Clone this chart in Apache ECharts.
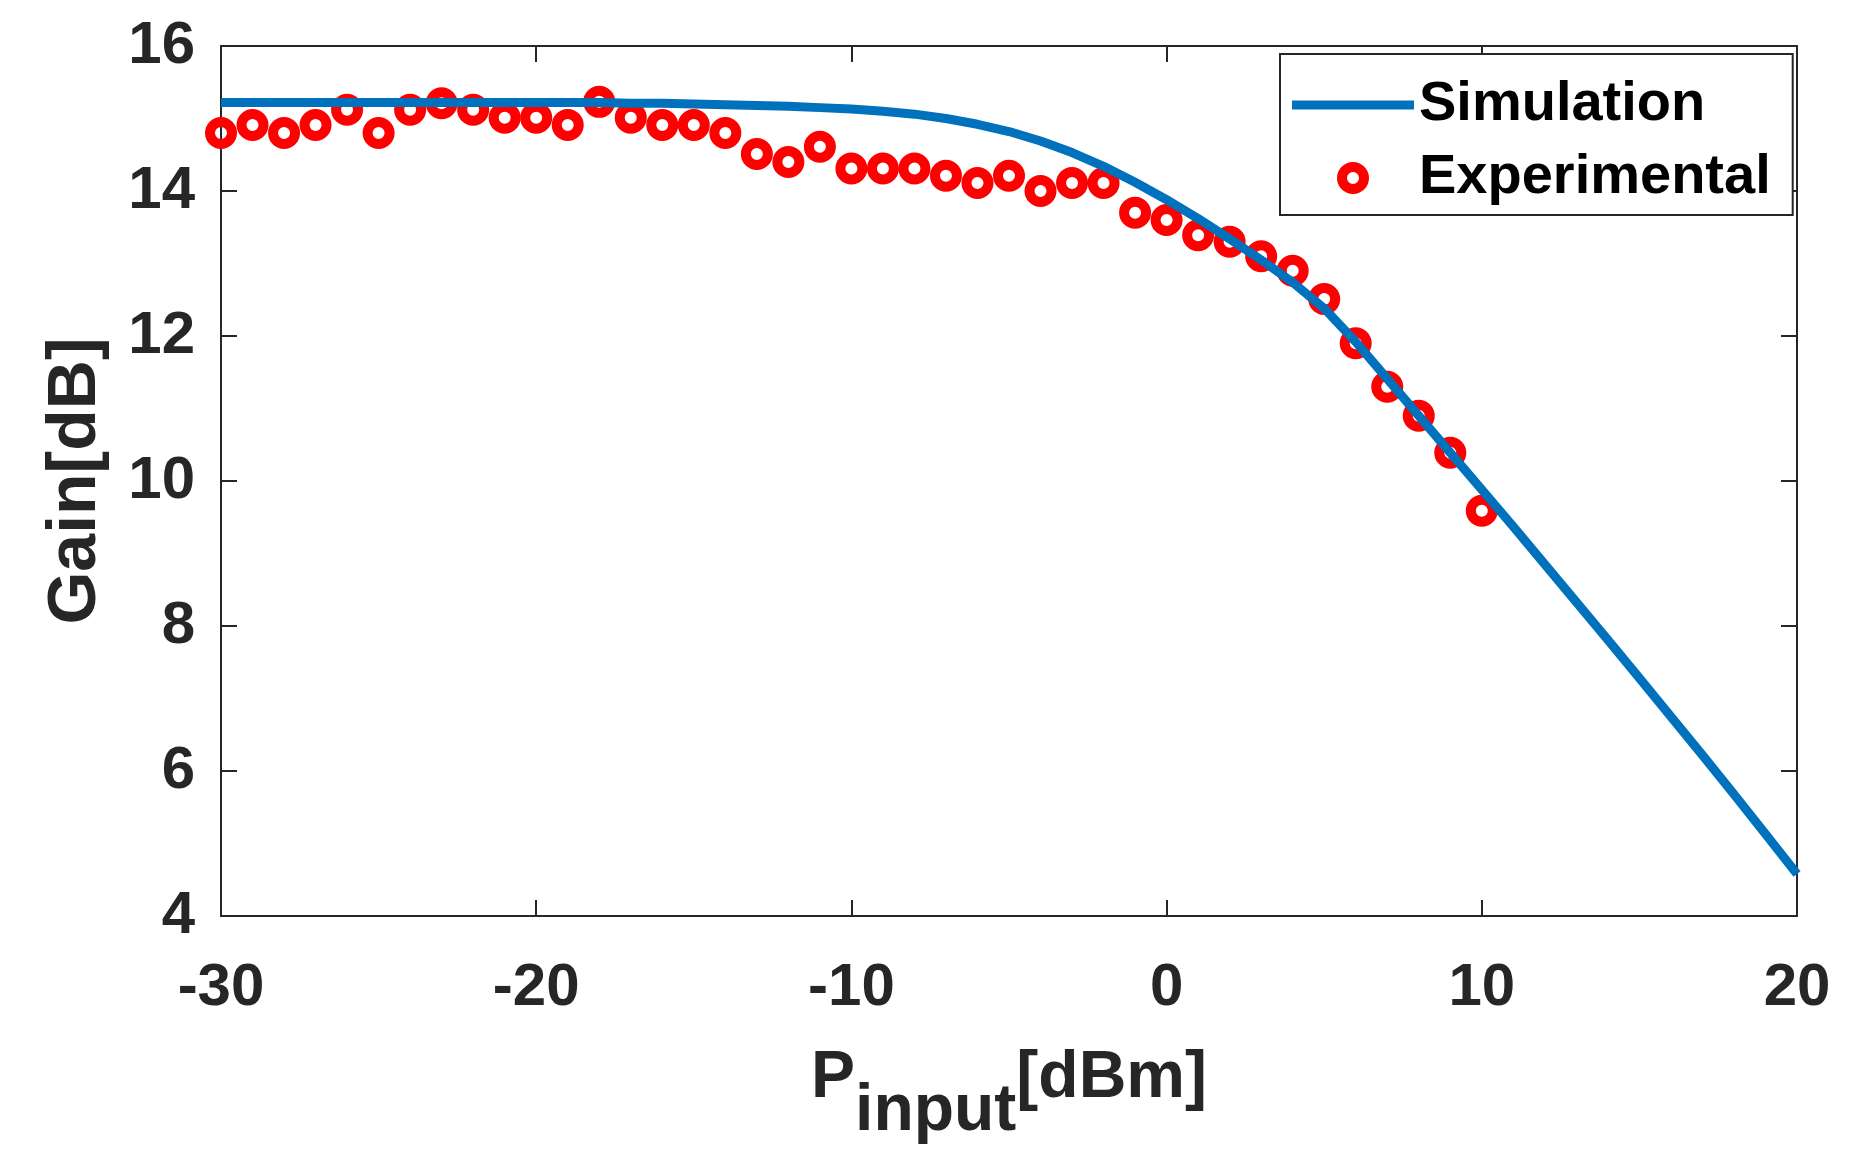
<!DOCTYPE html>
<html>
<head>
<meta charset="utf-8">
<title>Gain vs input power</title>
<script src="https://cdn.jsdelivr.net/npm/echarts@6/dist/echarts.min.js"></script>
<style>
    html, body { margin: 0; padding: 0; background: #fff; }
    #chart { width: 1872px; height: 1172px; }
</style>
</head>
<body>
<div id="chart"></div>
<script>
// simulated gain curve at each dBm
var simX = [-30, -29, -28, -27, -26, -25, -24, -23, -22, -21, -20, -19, -18, -17, -16, -15, -14, -13, -12, -11,
    -10, -9, -8, -7, -6, -5, -4, -3, -2, -1, 0, 1, 2, 3, 4, 5, 6, 7, 8, 9, 10,
    11, 12, 13, 14, 15, 16, 17, 18, 19, 20];
var simGain = [15.22, 15.22, 15.22, 15.22, 15.22, 15.22, 15.22, 15.22, 15.22, 15.22, 15.22, 15.22, 15.22, 15.21, 15.21, 15.20, 15.19, 15.18, 15.17, 15.15,
    15.13, 15.10, 15.06, 15.00, 14.92, 14.82, 14.69, 14.53, 14.34, 14.12, 13.88, 13.62, 13.34, 13.05, 12.74, 12.38, 11.92, 11.41, 10.90, 10.39, 9.88,
    9.37, 8.85, 8.33, 7.81, 7.28, 6.75, 6.22, 5.68, 5.13, 4.58];

// measured points
var expX = [-30, -29, -28, -27, -26, -25, -24, -23, -22, -21, -20, -19, -18, -17, -16, -15, -14, -13, -12, -11,
    -10, -9, -8, -7, -6, -5, -4, -3, -2, -1, 0, 1, 2, 3, 4, 5, 6, 7, 8, 9, 10];
var expGain = [14.80, 14.91, 14.80, 14.91, 15.12, 14.80, 15.12, 15.21, 15.12, 15.01, 15.01, 14.91, 15.23, 15.01, 14.91, 14.91, 14.80, 14.51, 14.40, 14.61,
    14.31, 14.31, 14.31, 14.21, 14.11, 14.21, 14.00, 14.11, 14.11, 13.70, 13.60, 13.39, 13.30, 13.10, 12.90, 12.51, 11.90, 11.30, 10.90, 10.39, 9.59];

var legendNames = ["Simulation", "Experimental"];

function pairs(xs, ys) {
    var out = [];
    for (var i = 0; i < xs.length; i++) {
        out.push([xs[i], ys[i]]);
    }
    return out;
}

var fontFamily = "'Liberation Sans', Arial, Helvetica, sans-serif";
var axisColor = "#262626";
var textColor = "#262626";
var simColor = "#0072BD";
var expColor = "#ff0000";

var boxAxis = {
    axisLine: { show: true, onZero: false, lineStyle: { color: axisColor, width: 2 } },
    axisTick: { show: true, inside: true, length: 16, lineStyle: { color: axisColor, width: 2 } },
    axisLabel: { show: false },
    splitLine: { show: false }
};

var myChart = echarts.init(document.getElementById("chart"));
var option = {
    backgroundColor: "#fff",
    animation: false,
    grid: {
        left: 221,
        top: 46,
        width: 1576,
        height: 870,
        containLabel: false
    },
    legend: {
        orient: "vertical",
        left: 1280,
        top: 54,
        padding: [21, 22, 7, 12],
        itemGap: 13,
        itemWidth: 122,
        itemHeight: 22,
        borderColor: axisColor,
        borderWidth: 2,
        backgroundColor: "#fff",
        textStyle: {
            color: "#000",
            fontSize: 56,
            fontWeight: "bold",
            fontFamily: fontFamily,
            lineHeight: 60
        },
        data: [
            {
                name: legendNames[0],
                icon: "path://M0,0L122,0L122,9L0,9Z",
                itemStyle: { color: simColor, borderWidth: 0 }
            },
            {
                name: legendNames[1],
                icon: "circle",
                itemStyle: { color: "rgba(255,255,255,0)", borderColor: expColor, borderWidth: 10 }
            }
        ]
    },
    xAxis: [
        {
            type: "value",
            min: -30,
            max: 20,
            interval: 10,
            position: "bottom",
            name: "{p|P}{s|input}{p|[dBm]}",
            nameLocation: "middle",
            nameGap: 130,
            nameTextStyle: {
                rich: {
                    p: {
                        fontSize: 66,
                        fontWeight: "bold",
                        fontFamily: fontFamily,
                        color: textColor,
                        lineHeight: 70,
                        verticalAlign: "top"
                    },
                    s: {
                        fontSize: 66,
                        fontWeight: "bold",
                        fontFamily: fontFamily,
                        color: textColor,
                        lineHeight: 70,
                        padding: [33, 0, 0, 0],
                        verticalAlign: "top"
                    }
                }
            },
            axisLine: { show: true, onZero: false, lineStyle: { color: axisColor, width: 2 } },
            axisTick: { show: true, inside: true, length: 16, lineStyle: { color: axisColor, width: 2 } },
            axisLabel: {
                show: true,
                margin: 42,
                color: textColor,
                fontSize: 60,
                fontWeight: "bold",
                fontFamily: fontFamily
            },
            splitLine: { show: false }
        },
        Object.assign({ type: "value", min: -30, max: 20, interval: 10, position: "top" }, boxAxis)
    ],
    yAxis: [
        {
            type: "value",
            min: 4,
            max: 16,
            interval: 2,
            position: "left",
            name: "Gain[dB]",
            nameLocation: "middle",
            nameGap: 111,
            nameTextStyle: {
                color: textColor,
                fontSize: 68,
                fontWeight: "bold",
                fontFamily: fontFamily
            },
            axisLine: { show: true, onZero: false, lineStyle: { color: axisColor, width: 2 } },
            axisTick: { show: true, inside: true, length: 16, lineStyle: { color: axisColor, width: 2 } },
            axisLabel: {
                show: true,
                margin: 26,
                color: textColor,
                fontSize: 60,
                fontWeight: "bold",
                fontFamily: fontFamily
            },
            splitLine: { show: false }
        },
        Object.assign({ type: "value", min: 4, max: 16, interval: 2, position: "right" }, boxAxis)
    ],
    series: [
        {
            name: legendNames[0],
            type: "line",
            xAxisIndex: 0,
            yAxisIndex: 0,
            smooth: false,
            symbol: "none",
            showSymbol: false,
            lineStyle: { color: simColor, width: 9, join: "round" },
            itemStyle: { color: simColor },
            data: pairs(simX, simGain)
        },
        {
            name: legendNames[1],
            type: "scatter",
            xAxisIndex: 0,
            yAxisIndex: 0,
            symbol: "circle",
            symbolSize: 22,
            itemStyle: {
                color: "rgba(255,255,255,0)",
                borderColor: expColor,
                borderWidth: 10,
                opacity: 1
            },
            data: pairs(expX, expGain)
        }
    ]
};
myChart.setOption(option, true);
</script>
</body>
</html>
